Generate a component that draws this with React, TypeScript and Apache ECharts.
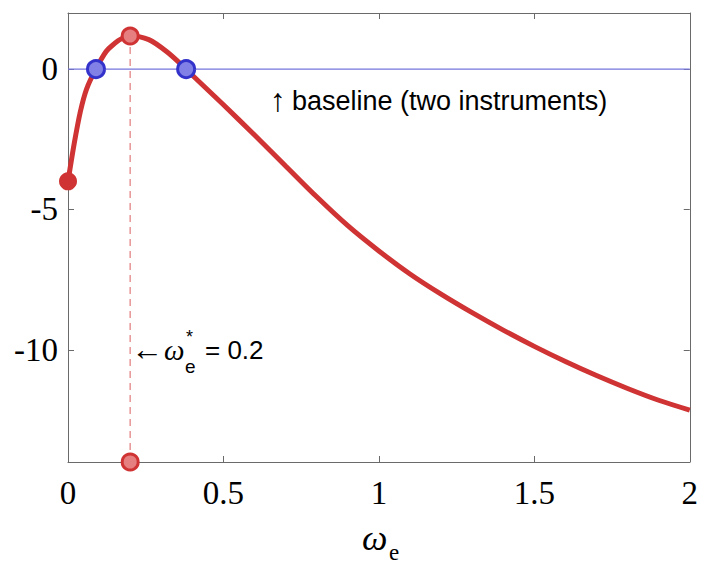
import React, { useEffect, useRef } from "react";
import * as echarts from "echarts";

// Curve
const curveX = [0, 0.02, 0.04, 0.06, 0.09, 0.13, 0.2, 0.26, 0.32, 0.38, 0.4, 0.5, 0.6, 0.7, 0.8, 0.9, 1.0, 1.1, 1.2, 1.3, 1.4, 1.5, 1.6, 1.7, 1.8, 1.9, 2.0];
const curveY = [-4.0, -2.65, -1.5, -0.7, 0, 0.72, 1.18, 1.05, 0.6, 0, -0.22, -1.27, -2.35, -3.45, -4.55, -5.58, -6.48, -7.3, -8.02, -8.68, -9.3, -9.88, -10.42, -10.92, -11.38, -11.8, -12.15];

// Special points
const startX = [0];
const startY = [-4];
const rootX = [0.09, 0.38];
const rootY = [0, 0];
const optimumX = 0.2;
const optimumY = 1.18;

// Axes
const xTicks = [0, 0.5, 1, 1.5, 2];
const yTicks = [-10, -5, 0];
const xRange = [0, 2];
const yRange = [-14, 2];
const baselineY = 0;

export default function App() {
  const ref = useRef<HTMLDivElement>(null);

  useEffect(() => {
    const chart = echarts.init(ref.current!, null, { renderer: "svg" });
    const axisColor = "#6a6a6a";
    const serif = "'Liberation Serif', 'Times New Roman', serif";
    const sans = "'Liberation Sans', Arial, sans-serif";

    const xBase = {
      type: "value" as const,
      min: xRange[0],
      max: xRange[1],
      interval: 0.5,
      axisLine: { show: true, onZero: false, lineStyle: { color: axisColor, width: 1 } },
      axisTick: { show: true, inside: true, length: 6, lineStyle: { color: axisColor }, customValues: xTicks },
      splitLine: { show: false },
    };
    const yBase = {
      type: "value" as const,
      min: yRange[0],
      max: yRange[1],
      axisLine: { show: true, onZero: false, lineStyle: { color: axisColor, width: 1 } },
      axisTick: { show: true, inside: true, length: 6, lineStyle: { color: axisColor }, customValues: yTicks },
      splitLine: { show: false },
    };

    chart.setOption({
      animation: false,
      backgroundColor: "#ffffff",
      grid: { left: 68, right: 8, top: 13, bottom: 105, containLabel: false },
      xAxis: [
        {
          ...xBase,
          position: "bottom",
          axisLabel: { show: true, customValues: xTicks, fontFamily: serif, fontSize: 33, color: "#000", margin: 14 },
        },
        { ...xBase, position: "top", axisLabel: { show: false } },
      ],
      yAxis: [
        {
          ...yBase,
          position: "left",
          axisLabel: { show: true, customValues: yTicks, fontFamily: serif, fontSize: 33, color: "#000", margin: 10 },
        },
        { ...yBase, position: "right", axisLabel: { show: false } },
      ],
      series: [
        {
          type: "line",
          data: xRange.map((x) => [x, baselineY]),
          symbol: "none",
          lineStyle: { color: "#7474dc", width: 1.2 },
          z: 1,
        },
        {
          type: "line",
          data: [[optimumX, yRange[0]], [optimumX, optimumY]],
          symbol: "none",
          lineStyle: { color: "#e89494", width: 1.5, type: [7, 5] },
          z: 2,
        },
        {
          type: "line",
          data: curveX.map((x, i) => [x, curveY[i]]),
          symbol: "none",
          smooth: 0.3,
          lineStyle: { color: "#cf3333", width: 5 },
          z: 3,
        },
        {
          type: "scatter",
          data: startX.map((x, i) => [x, startY[i]]),
          symbol: "circle",
          symbolSize: 18,
          clip: false,
          itemStyle: { color: "#cf3333", opacity: 1 },
          z: 4,
        },
        {
          type: "scatter",
          data: rootX.map((x, i) => [x, rootY[i]]),
          symbol: "circle",
          symbolSize: 17,
          clip: false,
          itemStyle: { color: "#8080e6", borderColor: "#3333cc", borderWidth: 3, opacity: 1 },
          z: 5,
        },
        {
          type: "scatter",
          data: [[optimumX, optimumY], [optimumX, yRange[0]]],
          symbol: "circle",
          symbolSize: 16,
          clip: false,
          itemStyle: { color: "#e68080", borderColor: "#cf3333", borderWidth: 3, opacity: 1 },
          z: 5,
        },
      ],
      graphic: [
        {
          type: "group",
          left: 270,
          top: 84,
          children: [
            { type: "text", x: 0, y: 0, style: { text: "\u2191", font: `32px ${sans}`, fill: "#000" } },
            { type: "text", x: 22, y: 3, style: { text: "baseline (two instruments)", font: `27px ${sans}`, fill: "#000" } },
          ],
          z: 10,
        },
        {
          type: "group",
          left: 131,
          top: 328,
          children: [
            { type: "text", x: 0, y: 6, style: { text: "\u2190", font: `32px ${sans}`, fill: "#000" } },
            { type: "text", x: 33, y: 8, style: { text: "\u03c9", font: `italic 29px ${serif}`, fill: "#000" } },
            { type: "text", x: 54, y: 30, style: { text: "e", font: `19px ${sans}`, fill: "#000" } },
            { type: "text", x: 55, y: 1, style: { text: "*", font: `18px ${sans}`, fill: "#000" } },
            { type: "text", x: 74, y: 10, style: { text: "= 0.2", font: `26px ${sans}`, fill: "#000" } },
          ],
          z: 10,
        },
        {
          type: "group",
          left: 362,
          top: 520,
          children: [
            { type: "text", x: 0, y: 0, style: { text: "\u03c9", font: `italic 36px ${serif}`, fill: "#000" } },
            { type: "text", x: 27, y: 21, style: { text: "e", font: `23px ${serif}`, fill: "#000" } },
          ],
          z: 10,
        },
      ],
    });

    return () => chart.dispose();
  }, []);

  return (
    <div
      ref={ref}
      style={{ position: "fixed", left: 0, top: 0, width: 701, height: 567, background: "#fff" }}
    />
  );
}
